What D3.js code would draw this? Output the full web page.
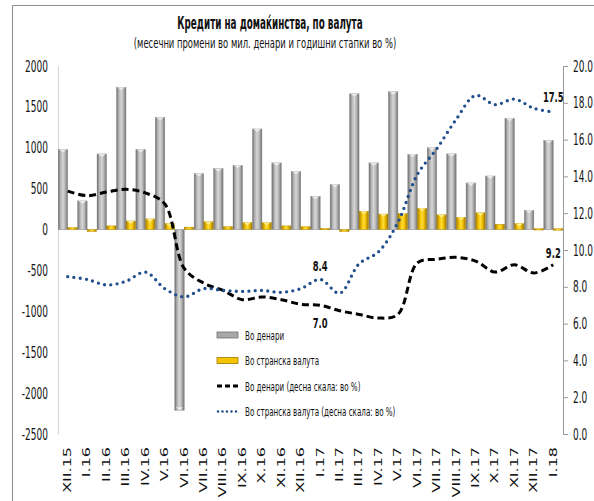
<!DOCTYPE html>
<head>
<meta charset="utf-8">
<script src="https://d3js.org/d3.v7.min.js"></script>
<title>Кредити на домаќинства, по валута</title>
<style>
  body { margin: 0; background: #fff; }
  text { font-family: 'DejaVu Sans', sans-serif; fill: #111; }
</style>
</head>
<body>
<div id="graph_container"></div>
<script>
// categories (months)
let months = ['XII.15','I.16','II.16','III.16','IV.16','V.16','VI.16','VII.16','VIII.16','IX.16','X.16','XI.16',
              'XII.16','I.17','II.17','III.17','IV.17','V.17','VI.17','VII.17','VIII.17','IX.17','X.17','XI.17','XII.17','I.18']
// monthly change, mil. denars (left scale)
let denars = [980, 350, 925, 1740, 980, 1370, -2210, 685, 745, 785, 1230, 815,
              710, 405, 550, 1660, 815, 1685, 920, 1000, 925, 570, 655, 1360, 235, 1090]
let foreign = [25, -25, 45, 105, 130, 75, 30, 95, 35, 85, 85, 45,
               35, 15, -25, 225, 190, 200, 260, 180, 150, 205, 65, 75, 12, 10]
// annual growth rates, % (right scale)
let denarsRate = [13.2, 12.95, 13.15, 13.3, 13.1, 12.5, 9.0, 8.2, 7.8, 7.3, 7.45, 7.3,
                  7.05, 7.0, 6.7, 6.5, 6.3, 6.5, 9.3, 9.5, 9.6, 9.4, 8.8, 9.2, 8.75, 9.2]
let foreignRate = [8.55, 8.4, 8.1, 8.3, 8.8, 7.9, 7.45, 7.9, 7.8, 7.75, 7.8, 7.7,
                   7.9, 8.4, 7.65, 9.25, 9.9, 11.5, 14.1, 15.5, 17.1, 18.4, 17.9, 18.2, 17.7, 17.5]
let leftTicks = [2000, 1500, 1000, 500, 0, -500, -1000, -1500, -2000, -2500]
let rightTicks = [0, 2, 4, 6, 8, 10, 12, 14, 16, 18, 20]
let legendNames = ['Во денари', 'Во странска валута', 'Во денари  (десна скала: во %)', 'Во странска валута  (десна скала: во %)']

let squeeze = 0.6

document.getElementById('graph_container').innerHTML = "<svg width=594 height=501></svg>"
let svg = d3.select('svg')

// gradients for the 3d-looking bars
let defs = svg.append('defs')
function grad(id, stops) {
    let lg = defs.append('linearGradient').attr('id', id).attr('x1', '0%').attr('x2', '100%')
    stops.forEach(s => lg.append('stop').attr('offset', s[0]).attr('stop-color', s[1]))
}
grad('gray', [['0%', '#6a6a6a'], ['25%', '#b4b4b4'], ['50%', '#d6d6d6'], ['75%', '#b0b0b0'], ['100%', '#6e6e6e']])
grad('gold', [['0%', '#a07800'], ['30%', '#f2c200'], ['50%', '#ffdc3a'], ['70%', '#f0c000'], ['100%', '#9a7400']])

// frame
svg.append('path').attr('d', 'M12.5,520 V5.5 H600').attr('fill', 'none').attr('stroke', '#8c8c8c').attr('stroke-width', 1)

function txt(x, y, s, o) {
    o = o || {}
    return svg.append('text')
        .attr('transform', `translate(${x},${y}) scale(${o.sx || squeeze},1)`)
        .attr('text-anchor', o.anchor || 'start')
        .style('font-size', (o.size || 15) + 'px')
        .style('font-weight', o.bold ? 'bold' : 'normal')
        .text(s)
}

// title
txt(270, 29, 'Кредити на домаќинства, по валута', {anchor: 'middle', size: 17, bold: true, sx: 0.52})
txt(265, 48, '(месечни промени во мил. денари и годишни стапки во %)', {anchor: 'middle', size: 14.5, sx: 0.58})

let x = d3.scaleBand().domain(months).range([58, 563]).padding(0)
let inner = d3.scaleBand().domain(['d', 'f']).range([0, x.bandwidth()]).paddingOuter(0.02).paddingInner(0)
let yL = d3.scaleLinear().domain([-2500, 2000]).range([434, 66])
let yR = d3.scaleLinear().domain([0, 20]).range([434, 66])

// axes
let axL = svg.append('g').attr('transform', 'translate(58,0)')
    .call(d3.axisLeft(yL).tickValues(leftTicks).tickSize(0).tickFormat(d3.format('d')))
axL.select('.domain').attr('stroke', '#d4d4d4')
axL.selectAll('.tick text').remove()
leftTicks.forEach(t => txt(48, yL(t) + 5.5, String(t), {anchor: 'end'}))

let axR = svg.append('g').attr('transform', 'translate(563,0)')
    .call(d3.axisRight(yR).tickValues(rightTicks).tickSize(5))
axR.select('.domain').attr('stroke', '#9a9a9a')
axR.selectAll('.tick line').attr('stroke', '#9a9a9a')
axR.selectAll('.tick text').remove()
rightTicks.forEach(t => txt(573, yR(t) + 5.5, d3.format('.1f')(t)))

// zero line
svg.append('line').attr('x1', 58).attr('x2', 563).attr('y1', yL(0)).attr('y2', yL(0))
    .attr('stroke', '#d0d0d0').attr('stroke-width', 1)

// category labels
months.forEach(m => {
    svg.append('text')
        .attr('transform', `translate(${x(m) + x.bandwidth() / 2},447) rotate(-90) scale(1,0.6)`)
        .attr('text-anchor', 'end')
        .attr('dy', '0.35em')
        .style('font-size', '16px')
        .text(m)
})

// bars
function bars(values, key, fill) {
    let g = svg.append('g')
    g.selectAll('rect')
        .data(values)
        .enter()
        .append('rect')
            .attr('x', (d, i) => x(months[i]) + inner(key))
            .attr('width', inner.bandwidth())
            .attr('y', d => yL(Math.max(0, d)))
            .attr('height', d => Math.max(1.5, Math.abs(yL(d) - yL(0))))
            .attr('fill', fill)
            .attr('stroke', key == 'd' ? '#8a8a8a' : '#b08800')
            .attr('stroke-width', 0.4)
    // light cap on top of the bars
    g.selectAll('path.cap')
        .data(values)
        .enter()
        .append('path')
            .attr('class', 'cap')
            .attr('d', (d, i) => {
                let x0 = x(months[i]) + inner(key), w = inner.bandwidth()
                let y0 = d >= 0 ? yL(d) : yL(d) - 3
                return `M${x0 + 1},${y0} h${w - 2} l-${(w - 2) / 2},3 z`
            })
            .attr('fill', key == 'd' ? '#f2f2f2' : '#fff2a0')
            .attr('opacity', (d) => Math.abs(yL(d) - yL(0)) > 6 ? 0.8 : 0)
}
bars(denars, 'd', 'url(#gray)')
bars(foreign, 'f', 'url(#gold)')

// lines
function line(values, color, dash, width) {
    let l = d3.line()
        .x((d, i) => x(months[i]) + x.bandwidth() / 2)
        .y(d => yR(d))
        .curve(d3.curveCatmullRom)
    svg.append('path')
        .datum(values)
        .attr('d', l)
        .attr('fill', 'none')
        .attr('stroke', color)
        .attr('stroke-width', width)
        .attr('stroke-dasharray', dash)
        .attr('stroke-linecap', dash.startsWith('0') ? 'round' : 'butt')
}
line(denarsRate, '#000', '7,4', 3)
line(foreignRate, '#1f4e8c', '0,6.3', 3.3)

// data labels
let cx = i => x(months[i]) + x.bandwidth() / 2
txt(cx(13), yR(foreignRate[13]) - 8, '8.4', {anchor: 'middle', bold: true, size: 14})
txt(cx(13), yR(denarsRate[13]) + 23, '7.0', {anchor: 'middle', bold: true, size: 14})
let last = months.length - 1
txt(cx(last), yR(denarsRate[last]) - 7, '9.2', {anchor: 'middle', bold: true, size: 14})
txt(cx(last), yR(foreignRate[last]) - 10, '17.5', {anchor: 'middle', bold: true, size: 14})

// legend
let legend = svg.append('g').attr('transform', 'translate(217,335)')
legendNames.forEach((name, i) => {
    let gy = i * 25.5
    if (i == 0 || i == 1) {
        legend.append('rect').attr('x', 0).attr('y', gy - 3).attr('width', 21).attr('height', 6)
            .attr('fill', i == 0 ? '#a8a8a8' : '#f5c400')
            .attr('stroke', i == 0 ? '#707070' : '#a07800').attr('stroke-width', 0.8)
    } else if (i == 2) {
        legend.append('line').attr('x1', 0).attr('x2', 21).attr('y1', gy).attr('y2', gy)
            .attr('stroke', '#000').attr('stroke-width', 3).attr('stroke-dasharray', '5,3')
    } else {
        legend.append('line').attr('x1', 1).attr('x2', 21).attr('y1', gy).attr('y2', gy)
            .attr('stroke', '#1f4e8c').attr('stroke-width', 2.5).attr('stroke-dasharray', '0,4.5')
            .attr('stroke-linecap', 'round')
    }
    legend.append('text')
        .attr('transform', `translate(28,${gy + 4.5}) scale(0.55,1)`)
        .style('font-size', '13px')
        .text(name)
})
</script>
</body>
